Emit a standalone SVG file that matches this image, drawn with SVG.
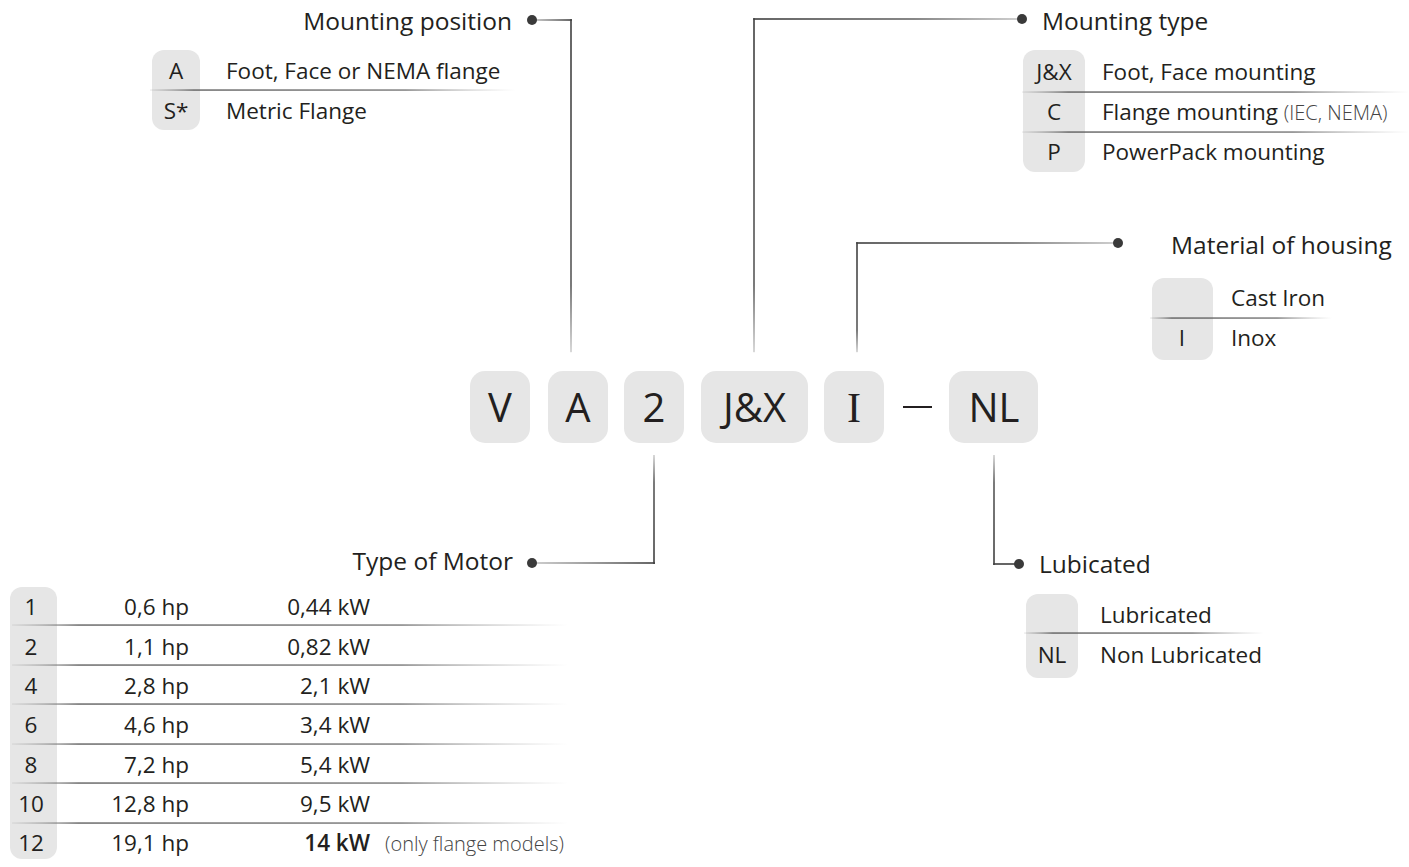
<svg xmlns="http://www.w3.org/2000/svg" width="1409" height="867" viewBox="0 0 1409 867">
<defs>
<linearGradient id="hLD" x1="0" y1="0" x2="1" y2="0"><stop offset="0" stop-color="#c4c4c4"/><stop offset="1" stop-color="#404040"/></linearGradient>
<linearGradient id="hDL" x1="0" y1="0" x2="1" y2="0"><stop offset="0" stop-color="#404040"/><stop offset="0.6" stop-color="#6a6a6a"/><stop offset="1" stop-color="#c4c4c4"/></linearGradient>
<linearGradient id="vDL" x1="0" y1="0" x2="0" y2="1"><stop offset="0" stop-color="#404040"/><stop offset="0.8" stop-color="#5a5a5a"/><stop offset="1" stop-color="#cfcfcf"/></linearGradient>
<linearGradient id="vLD" x1="0" y1="0" x2="0" y2="1"><stop offset="0" stop-color="#cfcfcf"/><stop offset="0.25" stop-color="#5a5a5a"/><stop offset="1" stop-color="#404040"/></linearGradient>
<linearGradient id="div" x1="0" y1="0" x2="1" y2="0"><stop offset="0" stop-color="#888" stop-opacity="0.15"/><stop offset="0.12" stop-color="#555"/><stop offset="0.7" stop-color="#6e6e6e"/><stop offset="1" stop-color="#aaa" stop-opacity="0"/></linearGradient>
</defs>
<style>
text{font-family:"Open Sans","Liberation Sans",sans-serif;fill:#231f20;font-weight:500}
.h{font-size:24.5px}
.t{font-size:22.5px}
.s{font-size:20px;font-weight:300;fill:#444}
.c{text-anchor:middle}
.e{text-anchor:end}
.big{font-size:40px;text-anchor:middle;font-weight:400}
.box{fill:#e6e6e6}
.dot{fill:#3a3a3a}
</style>
<rect width="1409" height="867" fill="#fff"/>

<g id="connectors">
<rect x="532" y="19.2" width="40" height="1.6" fill="url(#hLD)"/>
<rect x="570.2" y="19.2" width="1.6" height="333" fill="url(#vDL)"/>
<rect x="753.2" y="18.2" width="1.6" height="334" fill="url(#vDL)"/>
<rect x="753.2" y="18.2" width="268" height="1.6" fill="url(#hDL)"/>
<rect x="856.2" y="242.2" width="1.6" height="110" fill="url(#vDL)"/>
<rect x="856.2" y="242.2" width="262" height="1.6" fill="url(#hDL)"/>
<rect x="653.2" y="455" width="1.6" height="109" fill="url(#vLD)"/>
<rect x="532" y="562.2" width="123" height="1.6" fill="url(#hLD)"/>
<rect x="993.2" y="455" width="1.6" height="110" fill="url(#vLD)"/>
<rect x="993.2" y="563.2" width="26" height="1.6" fill="#404040"/>
<circle class="dot" cx="532" cy="20" r="5"/>
<circle class="dot" cx="1022" cy="19" r="5"/>
<circle class="dot" cx="1118" cy="243" r="5"/>
<circle class="dot" cx="532" cy="563" r="5"/>
<circle class="dot" cx="1019" cy="564" r="5"/>
</g>

<g id="code-V"><rect class="box" x="470" y="371" width="60" height="72" rx="15"/><text class="big" x="500" y="422">V</text></g>
<g id="code-A"><rect class="box" x="548" y="371" width="60" height="72" rx="15"/><text class="big" x="578" y="422">A</text></g>
<g id="code-2"><rect class="box" x="624" y="371" width="60" height="72" rx="15"/><text class="big" x="654" y="422">2</text></g>
<g id="code-JX"><rect class="box" x="701" y="371" width="107" height="72" rx="15"/><text class="big" x="754.5" y="422">J&amp;X</text></g>
<g id="code-I"><rect class="box" x="824" y="371" width="60" height="72" rx="15"/><text class="big" x="854" y="422" style="font-family:'Liberation Serif',serif;font-size:42px">I</text></g>
<g id="code-dash"><rect x="903" y="406" width="29" height="2" fill="#231f20"/></g>
<g id="code-NL"><rect class="box" x="949" y="371" width="89" height="72" rx="15"/><text class="big" x="994" y="422">NL</text></g>

<g id="mounting-position">
<text class="h e" x="512" y="30">Mounting position</text>
<rect class="box" x="152" y="50" width="48" height="80" rx="12"/>
<rect x="150" y="89.4" width="365" height="1.3" fill="url(#div)"/>
<text class="t c" x="176" y="79">A</text>
<text class="t c" x="176" y="119">S*</text>
<text class="t" x="226" y="79">Foot, Face or NEMA flange</text>
<text class="t" x="226" y="119">Metric Flange</text>
</g>

<g id="mounting-type">
<text class="h" x="1042" y="30">Mounting type</text>
<rect class="box" x="1023" y="50" width="62" height="122" rx="12"/>
<rect x="1022" y="91.4" width="387" height="1.3" fill="url(#div)"/>
<rect x="1022" y="131.4" width="387" height="1.3" fill="url(#div)"/>
<text class="t c" x="1054" y="80">J&amp;X</text>
<text class="t c" x="1054" y="120">C</text>
<text class="t c" x="1054" y="160">P</text>
<text class="t" x="1102" y="80">Foot, Face mounting</text>
<text class="t" x="1102" y="120">Flange mounting <tspan class="s">(IEC, NEMA)</tspan></text>
<text class="t" x="1102" y="160">PowerPack mounting</text>
</g>

<g id="material-of-housing">
<text class="h" x="1171" y="254">Material of housing</text>
<rect class="box" x="1152" y="278" width="61" height="82" rx="12"/>
<rect x="1150" y="317.4" width="182" height="1.3" fill="url(#div)"/>
<text class="t c" x="1182" y="346">I</text>
<text class="t" x="1231" y="306">Cast Iron</text>
<text class="t" x="1231" y="346">Inox</text>
</g>

<g id="type-of-motor">
<text class="h e" x="513" y="570">Type of Motor</text>
<rect class="box" x="10" y="587" width="47" height="272" rx="12"/>
<g fill="url(#div)">
<rect x="12" y="624.4" width="556" height="1.3"/>
<rect x="12" y="664.4" width="556" height="1.3"/>
<rect x="12" y="703.4" width="556" height="1.3"/>
<rect x="12" y="743.4" width="556" height="1.3"/>
<rect x="12" y="782.4" width="556" height="1.3"/>
<rect x="12" y="822.4" width="556" height="1.3"/>
</g>
<text class="t c" x="31" y="615">1</text>
<text class="t c" x="31" y="655">2</text>
<text class="t c" x="31" y="694">4</text>
<text class="t c" x="31" y="733">6</text>
<text class="t c" x="31" y="773">8</text>
<text class="t c" x="31" y="812">10</text>
<text class="t c" x="31" y="851">12</text>
<text class="t e" x="189" y="615">0,6 hp</text>
<text class="t e" x="189" y="655">1,1 hp</text>
<text class="t e" x="189" y="694">2,8 hp</text>
<text class="t e" x="189" y="733">4,6 hp</text>
<text class="t e" x="189" y="773">7,2 hp</text>
<text class="t e" x="189" y="812">12,8 hp</text>
<text class="t e" x="189" y="851">19,1 hp</text>
<text class="t e" x="370" y="615">0,44 kW</text>
<text class="t e" x="370" y="655">0,82 kW</text>
<text class="t e" x="370" y="694">2,1 kW</text>
<text class="t e" x="370" y="733">3,4 kW</text>
<text class="t e" x="370" y="773">5,4 kW</text>
<text class="t e" x="370" y="812">9,5 kW</text>
<text class="t e" x="370" y="851" style="font-weight:600">14 kW</text>
<text class="s" x="385" y="851">(only flange models)</text>
</g>

<g id="lubicated">
<text class="h" x="1039" y="573">Lubicated</text>
<rect class="box" x="1026" y="594" width="52" height="84" rx="12"/>
<rect x="1024" y="632.4" width="240" height="1.3" fill="url(#div)"/>
<text class="t c" x="1052" y="663">NL</text>
<text class="t" x="1100" y="623">Lubricated</text>
<text class="t" x="1100" y="663">Non Lubricated</text>
</g>
</svg>
